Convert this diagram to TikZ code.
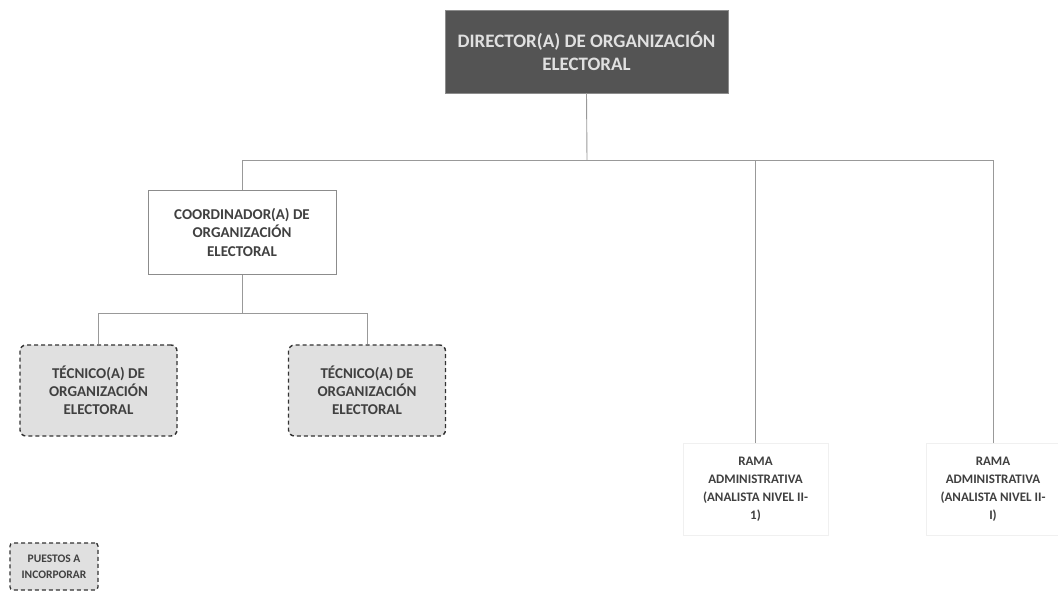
\documentclass[tikz,border=0pt]{standalone}
\usepackage{fontspec}
\setmainfont{Carlito}
\begin{document}
\begin{tikzpicture}[x=1pt,y=-1pt,
  txt/.style={font=\bfseries, text=black!75, align=center, inner sep=0pt},
  dirbox/.style={draw=black!45, fill=black!67, text=black!12, font=\bfseries\fontsize{19}{23}\selectfont, align=center, minimum width=283pt, minimum height=83pt, inner sep=0pt},
  coordbox/.style={txt, draw=black!45, fill=white, line width=1pt, font=\bfseries\fontsize{15}{18.5}\selectfont, minimum width=188pt, minimum height=84pt},
  techbox/.style={txt, draw=black!80, fill=black!12, dashed, dash pattern=on 4pt off 3pt, line width=1.4pt, rounded corners=6pt, font=\bfseries\fontsize{15}{18}\selectfont, minimum width=157pt, minimum height=91pt},
  ramabox/.style={txt, draw=black!6, fill=white, font=\bfseries\fontsize{13}{18}\selectfont, minimum height=92pt},
  legendbox/.style={txt, draw=black!80, fill=black!12, dash pattern=on 4pt off 3pt, line width=1.3pt, rounded corners=3pt, font=\bfseries\fontsize{11.5}{16}\selectfont, minimum width=88pt, minimum height=47pt},
  conn/.style={draw=black!40, line width=0.9pt}]
\useasboundingbox (0,0) rectangle (1058,597);
\node[dirbox] (dir) at (586.5,51.5) {DIRECTOR(A) DE ORGANIZACIÓN\\ELECTORAL};
\node[coordbox] (coord) at (242,232) {COORDINADOR(A) DE\\ORGANIZACIÓN\\ELECTORAL};
\node[techbox] (tec1) at (98.5,390.5) {TÉCNICO(A) DE\\ORGANIZACIÓN\\ELECTORAL};
\node[techbox] (tec2) at (367,390.5) {TÉCNICO(A) DE\\ORGANIZACIÓN\\ELECTORAL};
\node[ramabox, minimum width=145pt] (rama1) at (755.5,489) {RAMA\\ADMINISTRATIVA\\(ANALISTA NIVEL II-\\1)};
\node[ramabox, minimum width=133pt] (rama2) at (993,489) {RAMA\\ADMINISTRATIVA\\(ANALISTA NIVEL II-\\I)};
\node[legendbox] (legend) at (54,566.5) {PUESTOS A\\INCORPORAR};
\coordinate (hub) at (587,160);
\coordinate (hub2) at (242,313);
\draw[conn] (dir.south) -- (hub);
\draw[conn] (coord.north |- hub) -- (rama2.north |- hub);
\draw[conn] (coord.north |- hub) -- (coord.north);
\draw[conn] (rama1.north |- hub) -- (rama1.north);
\draw[conn] (rama2.north |- hub) -- (rama2.north);
\draw[conn] (coord.south) -- (hub2);
\draw[conn] (tec1.north |- hub2) -- (tec2.north |- hub2);
\draw[conn] (tec1.north |- hub2) -- (tec1.north);
\draw[conn] (tec2.north |- hub2) -- (tec2.north);
\end{tikzpicture}
\end{document}
